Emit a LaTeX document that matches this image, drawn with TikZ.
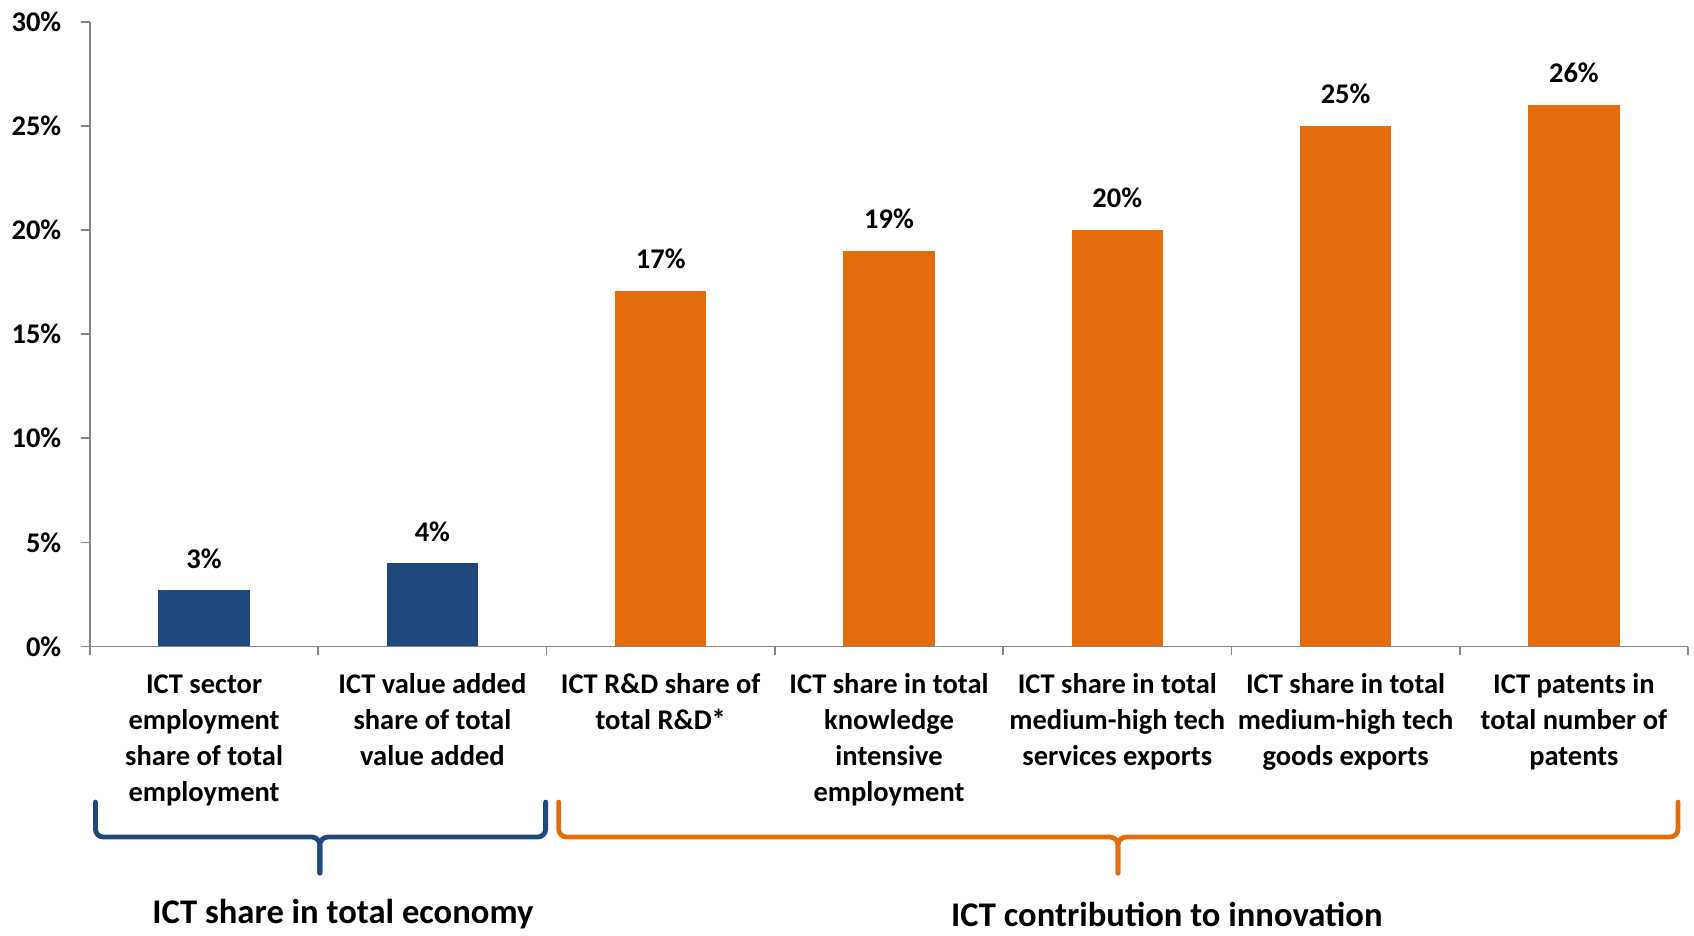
\documentclass[tikz,border=0pt]{standalone}
\usepackage{fontspec}
\setmainfont{Carlito}
\usepackage{tikz}
\usetikzlibrary{positioning}
\definecolor{ictblue}{HTML}{1F497D}
\definecolor{ictorange}{HTML}{E46C0A}
\definecolor{axisgray}{HTML}{868686}
\newcommand{\lblfont}{\fontsize{14.25}{18}\selectfont\bfseries}

\begin{document}
\begin{tikzpicture} [x=114.15pt,y=10.415pt,
	bar blue/.style={
		fill=ictblue},
	bar orange/.style={
		fill=ictorange},
	axis line/.style={
		draw=axisgray,line width=0.9pt},
	tick label/.style={
		anchor=east,inner sep=0pt,xshift=-14.15pt,font=\lblfont},
	value label/.style={
		anchor=base,inner sep=0pt,yshift=11pt,font=\lblfont},
	cat label/.style={
		anchor=north,align=center,inner sep=0pt,yshift=-10.65pt,font=\lblfont},
	brace blue/.style={
		draw=ictblue,line width=2.4pt,line cap=round,rounded corners=4pt},
	brace orange/.style={
		draw=ictorange,line width=2.4pt,line cap=round,rounded corners=4pt},
	group label/.style={
		anchor=base,inner sep=0pt,font=\fontsize{17.3}{21}\selectfont\bfseries}]
\useasboundingbox (-0.394,-13.85) rectangle (7.026,31.04);
% bars
\fill[bar blue]   (0.3,0) rectangle (0.7,2.7);
\fill[bar blue]   (1.3,0) rectangle (1.7,4);
\fill[bar orange] (2.3,0) rectangle (2.7,17.08);
\fill[bar orange] (3.3,0) rectangle (3.7,19);
\fill[bar orange] (4.3,0) rectangle (4.7,20);
\fill[bar orange] (5.3,0) rectangle (5.7,25);
\fill[bar orange] (6.3,0) rectangle (6.7,26);
% axes
\draw[axis line] (0,30) -- (0,0) -- (7,0);
\draw[axis line] (0,0) -- ++(-4.35pt,0) (0,5) -- ++(-4.35pt,0) (0,10) -- ++(-4.35pt,0)
	(0,15) -- ++(-4.35pt,0) (0,20) -- ++(-4.35pt,0) (0,25) -- ++(-4.35pt,0) (0,30) -- ++(-4.35pt,0);
\draw[axis line] (0,0) -- ++(0,-4.3pt) (1,0) -- ++(0,-4.3pt) (2,0) -- ++(0,-4.3pt) (3,0) -- ++(0,-4.3pt)
	(4,0) -- ++(0,-4.3pt) (5,0) -- ++(0,-4.3pt) (6,0) -- ++(0,-4.3pt) (7,0) -- ++(0,-4.3pt);
\node[tick label] (y0)  at (0,0)  {0\%};
\node[tick label] (y5)  at (0,5)  {5\%};
\node[tick label] (y10) at (0,10) {10\%};
\node[tick label] (y15) at (0,15) {15\%};
\node[tick label] (y20) at (0,20) {20\%};
\node[tick label] (y25) at (0,25) {25\%};
\node[tick label] (y30) at (0,30) {30\%};
% values
\node[value label] (val emp)     at (0.5,2.7)   {3\%};
\node[value label] (val added)   at (1.5,4)     {4\%};
\node[value label] (val rd)      at (2.5,17.08) {17\%};
\node[value label] (val know)    at (3.5,19)    {19\%};
\node[value label] (val serv)    at (4.5,20)    {20\%};
\node[value label] (val goods)   at (5.5,25)    {25\%};
\node[value label] (val patents) at (6.5,26)    {26\%};
% categories
\node[cat label] (cat emp)     at (0.5,0) {\strut ICT sector\\employment\\share of total\\employment};
\node[cat label] (cat added)   at (1.5,0) {\strut ICT value added\\share of total\\value added};
\node[cat label] (cat rd)      at (2.5,0) {\strut ICT R\&D share of\\total R\&D*};
\node[cat label] (cat know)    at (3.5,0) {\strut ICT share in total\\knowledge\\intensive\\employment};
\node[cat label] (cat serv)    at (4.5,0) {\strut ICT share in total\\medium-high tech\\services exports};
\node[cat label] (cat goods)   at (5.5,0) {\strut ICT share in total\\medium-high tech\\goods exports};
\node[cat label] (cat patents) at (6.5,0) {\strut ICT patents in\\total number of\\patents};
% braces
\draw[brace blue] (0.024,-7.465) |- (1.007,-9.145) -- (1.007,-10.874);
\draw[brace blue] (1.996,-7.465) |- (1.007,-9.145) -- (1.007,-10.874);
\draw[brace orange] (2.053,-7.465) |- (4.503,-9.145) -- (4.503,-10.874);
\draw[brace orange] (6.956,-7.465) |- (4.503,-9.145) -- (4.503,-10.874);
\node[group label] (economy)    at (1.108,-13.3) {ICT share in total economy};
\node[group label] (innovation) at (4.717,-13.45) {ICT contribution to innovation};
\end{tikzpicture}
\end{document}
